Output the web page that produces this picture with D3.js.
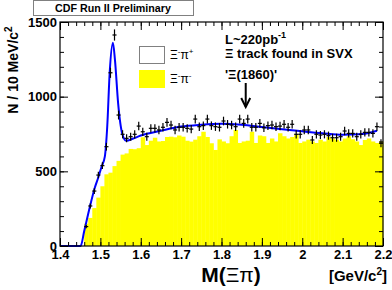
<!DOCTYPE html>
<html>
<head>
<meta charset="utf-8">
<script src="https://cdn.jsdelivr.net/npm/d3@7"></script>
<style>
body{margin:0;background:#fff;}
text{font-family:"Liberation Sans",Arial,sans-serif;}
</style>
</head>
<body>
<script>
//bin counts, 80 bins of 10 MeV from 1.40 to 2.20 GeV
var binStart = 1.4,
    binWidth = 0.01;

//Xi- pi+ data (points with error bars)
var rightSign = [0,0,0,0,0,0,130,268,368,475,
    538,665,1160,1413,877,748,721,732,748,803,
    765,732,788,788,777,795,828,810,777,795,
    795,788,783,850,799,806,850,806,799,795,
    837,815,810,799,850,821,850,795,795,821,
    792,806,810,799,803,815,795,815,748,748,
    777,777,710,748,743,748,739,725,725,732,
    770,754,754,732,748,761,761,754,799,688];

//Xi- pi- wrong sign (yellow histogram)
var wrongSign = [0,0,0,0,0,0,150,188,254,324,
    400,480,491,535,570,612,620,650,648,655,
    728,676,705,725,700,703,730,732,728,740,
    732,705,699,712,735,765,730,688,643,714,
    700,688,735,777,690,700,705,765,690,740,
    735,690,720,700,755,735,720,730,745,690,
    700,712,700,690,712,700,730,720,712,700,
    720,735,715,700,676,710,720,700,690,700];

//fit curve
var fitMass = [1.40,1.451,1.46,1.474,1.486,1.495,1.503,1.511,1.517,1.523,
    1.531,1.536,1.544,1.554,1.564,1.58,1.60,1.65,1.70,1.75,
    1.80,1.85,1.90,1.95,2.00,2.05,2.10,2.14,2.17,2.185];
var fitCounts = [0,0,100,263,388,460,531,598,800,1158,
    1361,1250,955,754,705,718,740,772,800,812,
    818,812,797,782,768,755,745,748,760,772];

//axis ticks
var xTicks = [1.4,1.5,1.6,1.7,1.8,1.9,2.0,2.1,2.2],
    xTickLabels = ["1.4","1.5","1.6","1.7","1.8","1.9","2","2.1","2.2"],
    yTicks = [0,500,1000,1500];

window.onload = setChart();

function setChart(){
    var width = 392,
        height = 290;

    var svg = d3.select("body")
        .append("svg")
        .attr("width", width)
        .attr("height", height);

    //plot frame
    var left = 60, right = 383, top = 22, bottom = 246;
    var x = d3.scaleLinear().domain([1.4, 2.2]).range([left, right]),
        y = d3.scaleLinear().domain([0, 1500]).range([bottom, top]);

    var bins = d3.range(rightSign.length);
    var binPx = x(binStart + binWidth) - x(binStart);

    //yellow histogram
    svg.append("g").selectAll("rect")
        .data(bins.filter(function(i){ return wrongSign[i] > 0; }))
        .enter()
        .append("rect")
        .attr("x", function(i){ return x(binStart + i * binWidth); })
        .attr("width", binPx + 0.4)
        .attr("y", function(i){ return y(wrongSign[i]); })
        .attr("height", function(i){ return y(0) - y(wrongSign[i]); })
        .attr("fill", "#ffff00");

    //fit curve
    var line = d3.line()
        .x(function(d, i){ return x(fitMass[i]); })
        .y(function(d){ return y(d); })
        .curve(d3.curveMonotoneX);

    svg.append("path")
        .datum(fitCounts)
        .attr("d", line)
        .attr("fill", "none")
        .attr("stroke", "#0000ff")
        .attr("stroke-width", 2);

    //data points with error bars
    var pts = svg.append("g")
        .attr("stroke", "#000")
        .attr("stroke-width", 1.2)
        .selectAll("g")
        .data(bins.filter(function(i){ return rightSign[i] > 0; }))
        .enter()
        .append("g");

    pts.append("line")
        .attr("x1", function(i){ return x(binStart + i * binWidth); })
        .attr("x2", function(i){ return x(binStart + (i + 1) * binWidth); })
        .attr("y1", function(i){ return y(rightSign[i]); })
        .attr("y2", function(i){ return y(rightSign[i]); });

    pts.append("line")
        .attr("x1", function(i){ return x(binStart + (i + 0.5) * binWidth); })
        .attr("x2", function(i){ return x(binStart + (i + 0.5) * binWidth); })
        .attr("y1", function(i){ return y(rightSign[i] + Math.sqrt(rightSign[i])); })
        .attr("y2", function(i){ return y(rightSign[i] - Math.sqrt(rightSign[i])); });

    //axes - ticks pointing inside like ROOT
    var xMinor = d3.range(41).map(function(k){ return 1.4 + k * 0.02; });
    var yMinor = d3.range(16).map(function(k){ return k * 100; });

    function styleAxis(g){
        g.select(".domain").remove();
        g.selectAll("line").attr("stroke", "#000");
        g.selectAll("text")
            .attr("font-size", 13)
            .attr("font-weight", "bold")
            .attr("fill", "#000");
    }

    svg.append("g")
        .attr("transform", "translate(0," + bottom + ")")
        .call(d3.axisBottom(x).tickValues(xMinor).tickSize(-4).tickFormat(""))
        .call(styleAxis);
    svg.append("g")
        .attr("transform", "translate(0," + bottom + ")")
        .call(d3.axisBottom(x).tickValues(xTicks).tickSize(-8).tickPadding(4)
            .tickFormat(function(d, i){ return xTickLabels[i]; }))
        .call(styleAxis);
    svg.append("g")
        .attr("transform", "translate(0," + top + ")")
        .call(d3.axisTop(x).tickValues(xMinor).tickSize(-4).tickFormat(""))
        .call(styleAxis);
    svg.append("g")
        .attr("transform", "translate(0," + top + ")")
        .call(d3.axisTop(x).tickValues(xTicks).tickSize(-8).tickFormat(""))
        .call(styleAxis);

    svg.append("g")
        .attr("transform", "translate(" + left + ",0)")
        .call(d3.axisLeft(y).tickValues(yMinor).tickSize(-4).tickFormat(""))
        .call(styleAxis);
    svg.append("g")
        .attr("transform", "translate(" + left + ",0)")
        .call(d3.axisLeft(y).tickValues(yTicks).tickSize(-8).tickPadding(3)
            .tickFormat(d3.format("d")))
        .call(styleAxis);
    svg.append("g")
        .attr("transform", "translate(" + right + ",0)")
        .call(d3.axisRight(y).tickValues(yMinor).tickSize(-4).tickFormat(""))
        .call(styleAxis);
    svg.append("g")
        .attr("transform", "translate(" + right + ",0)")
        .call(d3.axisRight(y).tickValues(yTicks).tickSize(-8).tickFormat(""))
        .call(styleAxis);

    svg.append("rect")
        .attr("x", left).attr("y", top)
        .attr("width", right - left).attr("height", bottom - top)
        .attr("fill", "none")
        .attr("stroke", "#000")
        .attr("stroke-width", 1.2);

    //axis titles
    var yTitle = svg.append("text")
        .attr("transform", "translate(18,70) rotate(-90)")
        .attr("text-anchor", "middle")
        .attr("font-size", 14)
        .attr("font-weight", "bold")
        .text("N / 10 MeV/c");
    yTitle.append("tspan").attr("dy", -6).attr("font-size", 10).text("2");

    var xTitle = svg.append("text")
        .attr("x", 231).attr("y", 282)
        .attr("text-anchor", "middle")
        .attr("font-size", 21)
        .attr("font-weight", "bold")
        .text("M(");
    xTitle.append("tspan").attr("font-weight", "normal").text("Ξπ");
    xTitle.append("tspan").text(")");

    var unit = svg.append("text")
        .attr("x", 387).attr("y", 281)
        .attr("text-anchor", "end")
        .attr("font-size", 15)
        .attr("font-weight", "bold")
        .text("[GeV/c");
    unit.append("tspan").attr("dy", -6).attr("font-size", 10).text("2");
    unit.append("tspan").attr("dy", 6).text("]");

    //title box
    svg.append("rect")
        .attr("x", 33.5).attr("y", 0.5)
        .attr("width", 160).attr("height", 15)
        .attr("fill", "#fff")
        .attr("stroke", "#808080");
    svg.append("text")
        .attr("x", 113).attr("y", 12)
        .attr("text-anchor", "middle")
        .attr("font-size", 10.7)
        .attr("font-weight", "bold")
        .text("CDF Run II Preliminary");

    //legend
    svg.append("rect")
        .attr("x", 139.5).attr("y", 46.5)
        .attr("width", 25).attr("height", 17)
        .attr("fill", "#fff")
        .attr("stroke", "#808080");
    svg.append("rect")
        .attr("x", 139).attr("y", 70)
        .attr("width", 26).attr("height", 18)
        .attr("fill", "#ffff00");

    var leg1 = svg.append("text").attr("x", 170).attr("y", 59).attr("font-size", 12).text("Ξ");
    leg1.append("tspan").attr("dy", -5).attr("font-size", 8).text("-");
    leg1.append("tspan").attr("dy", 5).text("π");
    leg1.append("tspan").attr("dy", -5).attr("font-size", 8).text("+");

    var leg2 = svg.append("text").attr("x", 170).attr("y", 83).attr("font-size", 12).text("Ξ");
    leg2.append("tspan").attr("dy", -5).attr("font-size", 8).text("-");
    leg2.append("tspan").attr("dy", 5).text("π");
    leg2.append("tspan").attr("dy", -5).attr("font-size", 8).text("-");

    //annotations
    var lumi = svg.append("text")
        .attr("x", 225).attr("y", 44)
        .attr("font-size", 13).attr("font-weight", "bold")
        .text("L~220pb");
    lumi.append("tspan").attr("dy", -6).attr("font-size", 9).text("-1");

    svg.append("text")
        .attr("x", 225).attr("y", 57.5)
        .attr("font-size", 13).attr("font-weight", "bold")
        .text("Ξ track found in SVX");

    svg.append("text")
        .attr("x", 225).attr("y", 79)
        .attr("font-size", 13).attr("font-weight", "bold")
        .text("'Ξ(1860)'");

    //arrow at 1.86
    var ax = x(1.86);
    svg.append("line")
        .attr("x1", ax).attr("x2", ax)
        .attr("y1", 83).attr("y2", 107)
        .attr("stroke", "#000").attr("stroke-width", 2);
    svg.append("path")
        .attr("d", "M" + (ax - 4.5) + ",98 L" + ax + ",107 L" + (ax + 4.5) + ",98")
        .attr("fill", "none")
        .attr("stroke", "#000").attr("stroke-width", 2);
};
</script>
</body>
</html>
